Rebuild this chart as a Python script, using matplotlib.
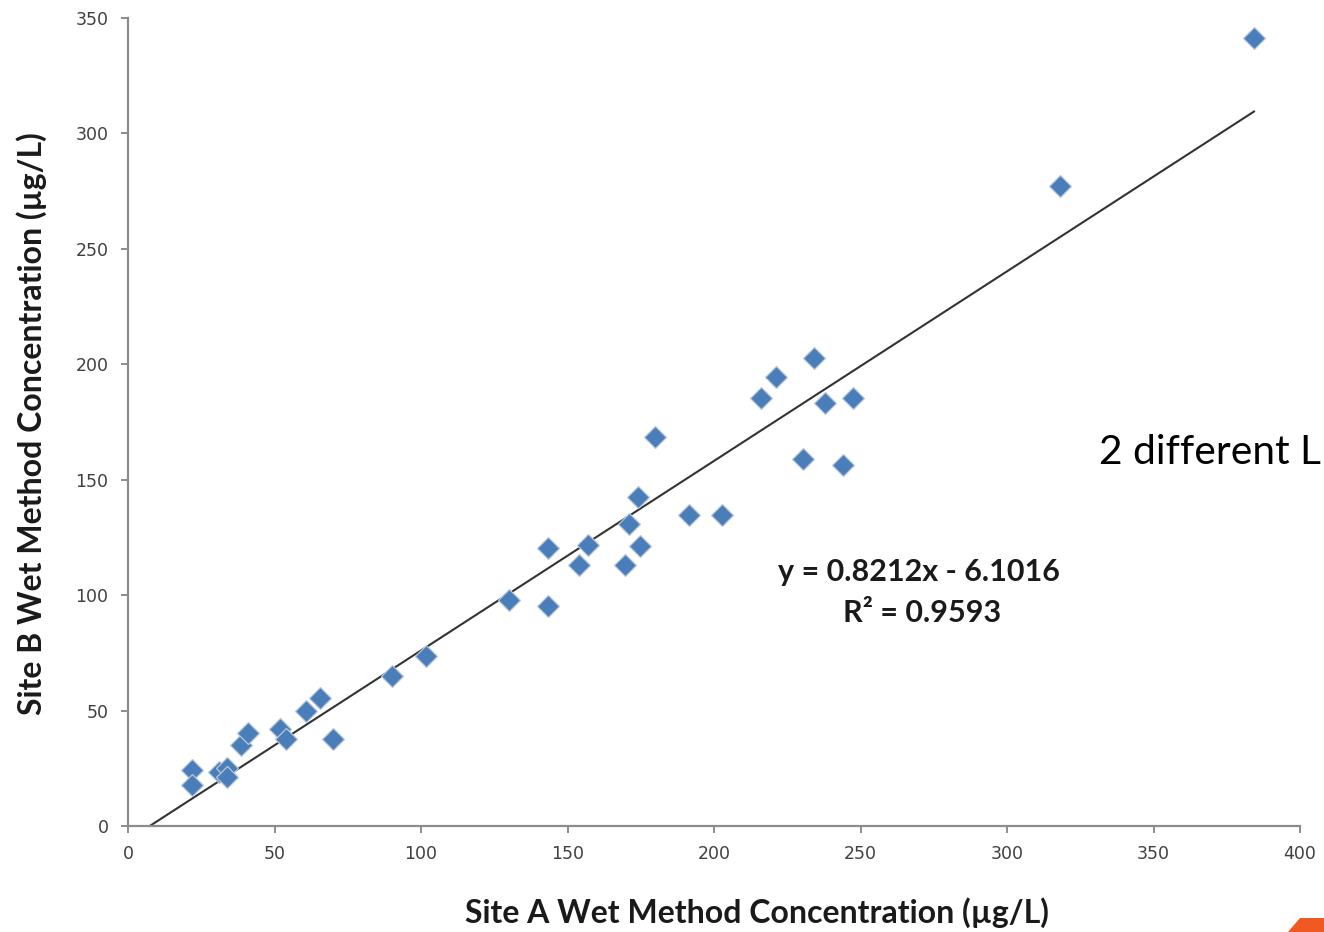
import matplotlib
matplotlib.use("Agg")
import matplotlib.pyplot as plt
from matplotlib.patches import Polygon
import numpy as np

# Data
site_a = [21.7, 21.7, 31.1, 33.7, 33.7, 38.6, 41.1, 51.9, 53.8, 60.6, 65.5, 70.1,
          90.0, 101.7, 130.1, 143.2, 143.2, 153.9, 157.1, 169.6, 171.0, 174.2,
          174.7, 179.9, 191.6, 202.9, 215.9, 221.0, 230.5, 234.2, 237.9, 244.1,
          247.3, 318.1, 384.3]
site_b = [24.3, 17.8, 23.3, 25.0, 21.4, 35.1, 40.1, 41.9, 37.7, 49.8, 55.3, 37.7,
          65.1, 73.8, 97.9, 120.3, 95.4, 113.1, 121.7, 113.1, 130.7, 142.6,
          121.3, 168.4, 134.7, 134.7, 185.2, 194.6, 159.0, 202.9, 183.1, 156.4,
          185.2, 277.4, 341.2]
slope = 0.8212
intercept = -6.1016
r2 = 0.9593
x_ticks = [0, 50, 100, 150, 200, 250, 300, 350, 400]
y_ticks = [0, 50, 100, 150, 200, 250, 300, 350]

W, H = 1324, 932
fig = plt.figure(figsize=(W/100, H/100), dpi=100)
ax = fig.add_axes([128/W, 1-826/H, (1300-128)/W, (826-18)/H])

# trendline (clipped at y=0 like Excel)
x0 = -intercept / slope
xl = np.array([x0, max(site_a)])
ax.plot(xl, slope*xl + intercept, color="#333333", lw=1.5, zorder=2)

ax.plot(site_a, site_b, linestyle="none", marker="D", markersize=11.5,
        markerfacecolor="#4A7EBB", markeredgecolor="#B9C6D6", markeredgewidth=0.9,
        zorder=3)

ax.set_xlim(0, 400)
ax.set_ylim(0, 350)
ax.set_xticks(x_ticks)
ax.set_yticks(y_ticks)
for s in ["top", "right"]:
    ax.spines[s].set_visible(False)
for s in ["left", "bottom"]:
    ax.spines[s].set_color("#8C8C8C")
    ax.spines[s].set_linewidth(1.6)
ax.tick_params(axis="both", direction="out", length=5, width=1.4, color="#8C8C8C",
               labelsize=12.5, labelcolor="#404040", pad=9)

fig.text(757/W, 1-913/H, "Site A Wet Method Concentration (µg/L)", ha="center",
         va="center", fontsize=23, fontweight="bold", color="#1A1A1A", family="Lato")
fig.text(32/W, 1-424/H, "Site B Wet Method Concentration (µg/L)", ha="center",
         va="center", rotation=90, fontsize=23, fontweight="bold", color="#1A1A1A",
         family="Lato")

fig.text(919/W, 1-572/H, f"y = {slope}x - {abs(intercept)}", ha="center", va="center",
         fontsize=22, fontweight="bold", color="#1A1A1A", family="Lato")
fig.text(922/W, 1-613/H, f"R² = {r2}", ha="center", va="center",
         fontsize=22, fontweight="bold", color="#1A1A1A", family="Lato")

fig.text(1099/W, 1-452/H, "2 different L", ha="left", va="center",
         fontsize=29.3, color="#000000", family="Lato")

fig.patches.append(Polygon([[1300/W, 14/H], [1324/W, 14/H],
                            [1324/W, 0], [1288/W, 0]],
                           closed=True, transform=fig.transFigure,
                           facecolor="#F05A22", edgecolor="none"))

fig.savefig("out.png", dpi=100)
